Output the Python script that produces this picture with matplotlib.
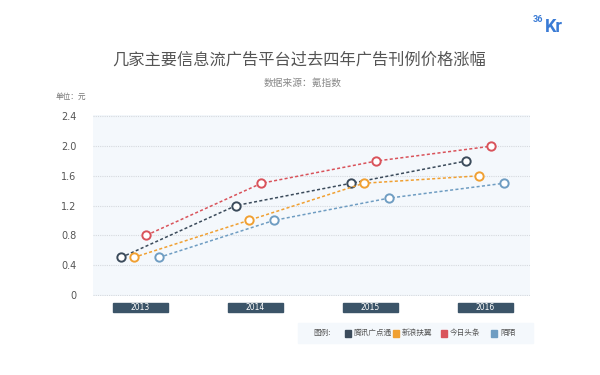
import matplotlib.pyplot as plt
import matplotlib.transforms as mtransforms
from matplotlib.patches import Rectangle

plt.rcParams['font.family'] = ['Noto Sans CJK SC', 'DejaVu Sans']

years = ['2013', '2014', '2015', '2016']
series = ['腾讯广点通', '新浪扶翼', '今日头条', '陌陌']
tencent = [0.5, 1.2, 1.5, 1.8]
sina = [0.5, 1.0, 1.5, 1.6]
toutiao = [0.8, 1.5, 1.8, 2.0]
momo = [0.5, 1.0, 1.3, 1.5]
colors = ['#3b4b5b', '#f0a032', '#d9535b', '#6f9dc2']
yticks = [0, 0.4, 0.8, 1.2, 1.6, 2.0, 2.4]

fig = plt.figure(figsize=(6, 3.75), dpi=100)
fig.patch.set_facecolor('white')
ax = fig.add_axes([93 / 600, 1 - 296 / 375, 437 / 600, 181 / 375])
ax.set_facecolor('#f4f8fc')

offsets = [-0.165, -0.055, 0.055, 0.165]
for vals, off, c in zip([tencent, sina, toutiao, momo], offsets, colors):
    xs = [i + off for i in range(len(years))]
    ax.plot(xs, vals, color=c, lw=1.1, ls=(0, (2, 1.5)),
            marker='o', ms=6, mfc='white', mec=c, mew=1.4, zorder=3)

ax.set_xlim(-0.41, 3.39)
ax.set_ylim(-0.02, 2.42)
ax.set_yticks(yticks)
ax.set_yticklabels(['0' if v == 0 else f'{v:.1f}' for v in yticks],
                   fontsize=7, color='#555555', family='DejaVu Sans')
ax.tick_params(axis='y', length=0, pad=12)
ax.set_xticks([])
for s in ax.spines.values():
    s.set_visible(False)
ax.grid(axis='y', color='#d5d9de', ls=(0, (1, 1)), lw=0.8)
ax.set_axisbelow(True)

# year boxes under the plot
trans = mtransforms.blended_transform_factory(ax.transData, ax.transAxes)
for i, y in enumerate(years):
    ax.add_patch(Rectangle((i - 0.24, -0.039), 0.48, -0.05, transform=trans,
                           color='#3b5468', clip_on=False))
    ax.text(i, -0.064, y, transform=trans, ha='center', va='center',
            fontsize=5.5, color='white', family='DejaVu Sans')

fig.text(299 / 600, 1 - 60 / 375, '几家主要信息流广告平台过去四年广告刊例价格涨幅',
         ha='center', va='center', fontsize=11.7, color='#555555', weight='light')
fig.text(303 / 600, 1 - 83 / 375, '数据来源：氪指数', ha='center', va='center',
         fontsize=7, color='#888888')
fig.text(56 / 600, 1 - 97 / 375, '单位：元', ha='left', va='center',
         fontsize=5.5, color='#777777')
fig.text(533 / 600, 1 - 20 / 375, '36', ha='left', va='center',
         fontsize=6.5, color='#3a7bd5', weight='bold', family='Roboto')
fig.text(545 / 600, 1 - 27 / 375, 'Kr', ha='left', va='center',
         fontsize=13, color='#3a7bd5', weight='bold', family='Roboto')

# legend
fig.patches.append(Rectangle((298 / 600, 1 - 343 / 375), 235 / 600, 20 / 375,
                             transform=fig.transFigure, color='#f4f8fc'))
fig.text(313 / 600, 1 - 333 / 375, '图例:', ha='left', va='center',
         fontsize=5.5, color='#555555')
leg_x = [345, 393, 441, 491]
for lx, name, c in zip(leg_x, series, colors):
    fig.patches.append(Rectangle((lx / 600, 1 - 336.5 / 375), 6 / 600, 7 / 375,
                                 transform=fig.transFigure, color=c))
    fig.text((lx + 9) / 600, 1 - 333 / 375, name, ha='left', va='center',
             fontsize=5.5, color='#555555')

fig.savefig('out.png', dpi=100)
